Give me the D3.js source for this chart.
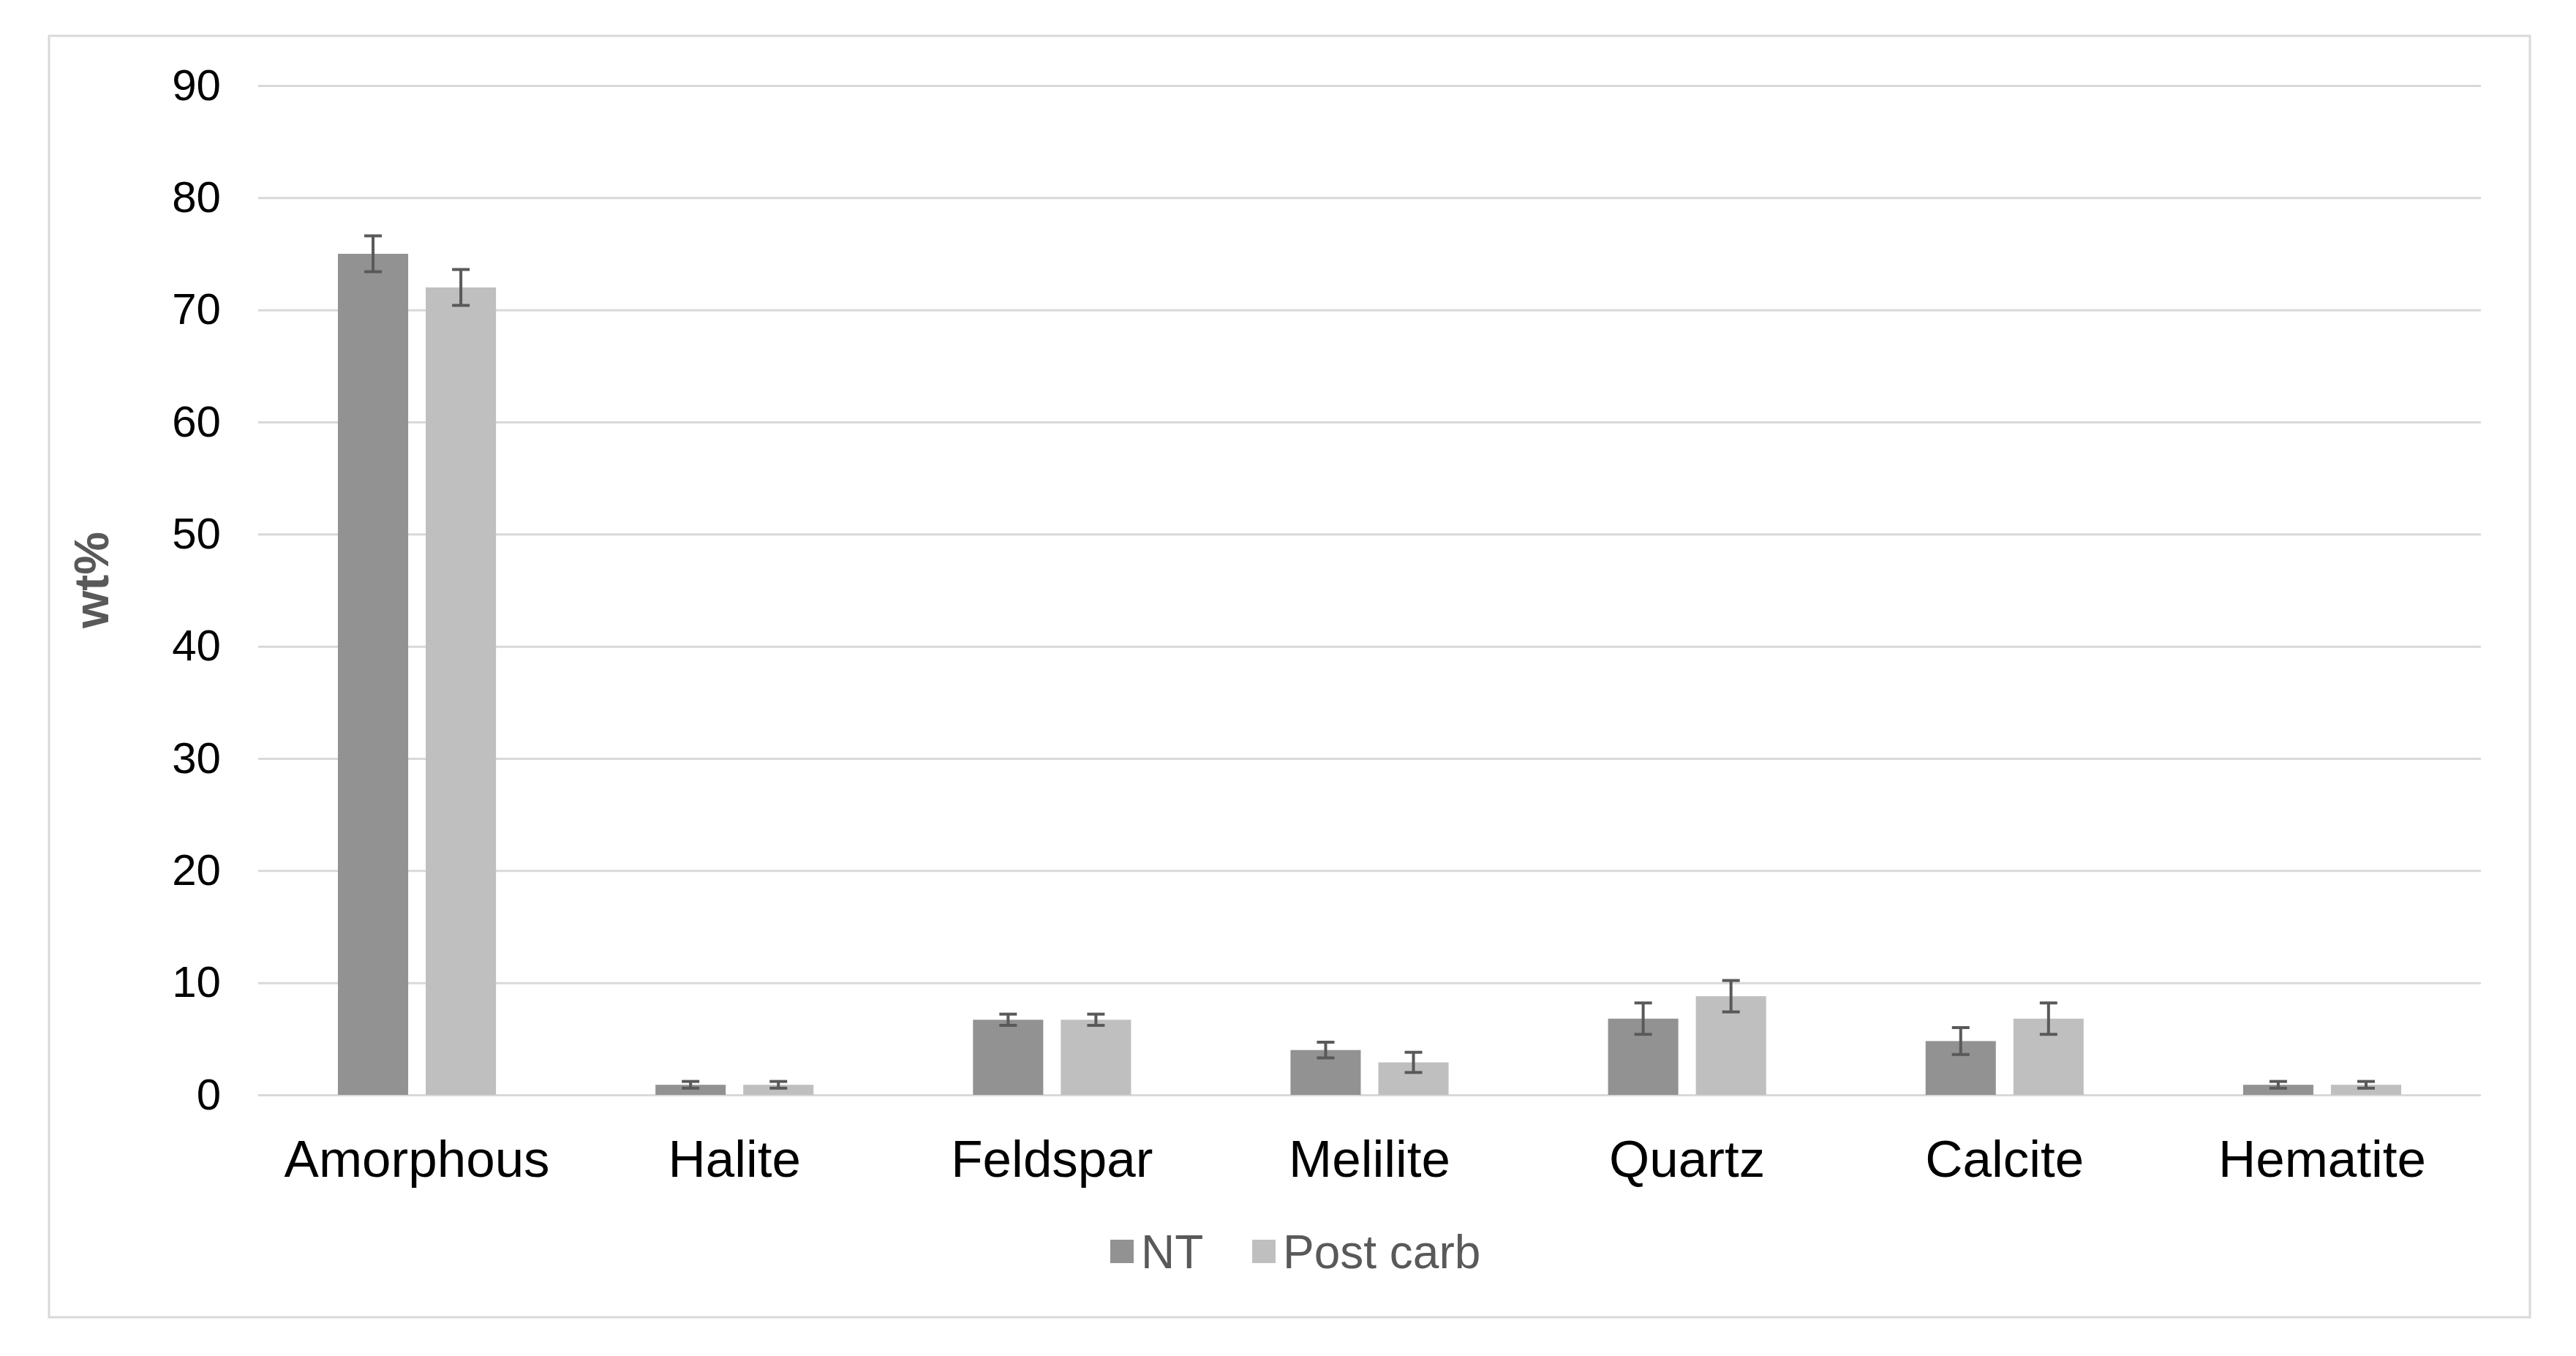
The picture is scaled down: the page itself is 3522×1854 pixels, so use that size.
<!DOCTYPE html>
<html>
<head>
<meta charset="utf-8">
<script src="https://cdn.jsdelivr.net/npm/d3@7"></script>
<style>
  html, body { margin: 0; padding: 0; background: #ffffff; }
</style>
</head>
<body>
<div id="chart"></div>
<script>
(function () {
  "use strict";

  // Mineral phases (x categories)
  const categories = ["Amorphous", "Halite", "Feldspar", "Melilite", "Quartz", "Calcite", "Hematite"];
  const seriesNames = ["NT", "Post carb"];

  // wt% values
  const ntValues = [75, 0.9, 6.7, 4.0, 6.8, 4.8, 0.9];
  const postCarbValues = [72, 0.9, 6.7, 2.9, 8.8, 6.8, 0.9];

  // error bar half-lengths
  const ntErrors = [1.6, 0.3, 0.5, 0.7, 1.4, 1.2, 0.3];
  const postCarbErrors = [1.6, 0.3, 0.5, 0.9, 1.4, 1.4, 0.3];

  const yTicks = [0, 10, 20, 30, 40, 50, 60, 70, 80, 90];

  const W = 3522, H = 1854;
  const FONT = "'Liberation Sans', Arial, Helvetica, sans-serif";
  const COLORS = { "NT": "#929292", "Post carb": "#bfbfbf" };
  const GRID = "#d9d9d9";

  const plot = { left: 353, right: 3392, top: 117, bottom: 1497 };

  const svg = d3.select("#chart").append("svg")
    .attr("width", W).attr("height", H)
    .style("display", "block");

  svg.append("rect").attr("width", W).attr("height", H).attr("fill", "#ffffff");

  // chart area border
  svg.append("rect")
    .attr("x", 67).attr("y", 49).attr("width", 3392).attr("height", 1752)
    .attr("fill", "none").attr("stroke", GRID).attr("stroke-width", 3);

  const y = d3.scaleLinear().domain([0, 90]).range([plot.bottom, plot.top]);

  const x0 = d3.scaleBand().domain(categories).range([plot.left, plot.right]).padding(0);
  const x1 = d3.scaleBand().domain(seriesNames).range([0, x0.bandwidth()])
    .paddingInner(0.2).paddingOuter(0.908);

  // y axis + gridlines
  const yAxis = d3.axisLeft(y)
    .tickValues(yTicks)
    .tickFormat(d3.format("d"))
    .tickSizeInner(-(plot.right - plot.left))
    .tickSizeOuter(0)
    .tickPadding(51);

  const yG = svg.append("g")
    .attr("transform", `translate(${plot.left},0)`)
    .call(yAxis);
  yG.select(".domain").remove();
  yG.selectAll(".tick line").attr("stroke", GRID).attr("stroke-width", 3);
  yG.selectAll(".tick text")
    .attr("fill", "#000000")
    .attr("font-family", FONT)
    .attr("font-size", "60px");

  // axis title
  svg.append("text")
    .attr("transform", "translate(148,793) rotate(-90)")
    .attr("text-anchor", "middle")
    .attr("fill", "#595959")
    .attr("font-family", FONT)
    .attr("font-weight", "bold")
    .attr("font-size", "66px")
    .text("wt%");

  // x axis labels
  const xAxis = d3.axisBottom(x0).tickSize(0).tickPadding(62);
  const xG = svg.append("g")
    .attr("transform", `translate(0,${plot.bottom})`)
    .call(xAxis);
  xG.select(".domain").remove();
  xG.selectAll(".tick text")
    .attr("fill", "#000000")
    .attr("font-family", FONT)
    .attr("font-size", "71px");

  // bars
  const rows = categories.map((c, i) => ({
    cat: c,
    vals: [
      { s: "NT", v: ntValues[i], e: ntErrors[i] },
      { s: "Post carb", v: postCarbValues[i], e: postCarbErrors[i] }
    ]
  }));

  const groups = svg.append("g").selectAll("g.grp")
    .data(rows).enter().append("g")
    .attr("class", "grp")
    .attr("transform", d => `translate(${x0(d.cat)},0)`);

  groups.selectAll("rect")
    .data(d => d.vals).enter().append("rect")
    .attr("x", d => x1(d.s))
    .attr("y", d => y(d.v))
    .attr("width", x1.bandwidth())
    .attr("height", d => y(0) - y(d.v))
    .attr("fill", d => COLORS[d.s]);

  // error bars
  const capW = 24;
  const eb = groups.selectAll("g.err")
    .data(d => d.vals).enter().append("g")
    .attr("class", "err")
    .attr("stroke", "#595959")
    .attr("stroke-width", 4);
  eb.append("line")
    .attr("x1", d => x1(d.s) + x1.bandwidth() / 2)
    .attr("x2", d => x1(d.s) + x1.bandwidth() / 2)
    .attr("y1", d => y(d.v + d.e))
    .attr("y2", d => y(d.v - d.e));
  eb.append("line")
    .attr("x1", d => x1(d.s) + x1.bandwidth() / 2 - capW / 2)
    .attr("x2", d => x1(d.s) + x1.bandwidth() / 2 + capW / 2)
    .attr("y1", d => y(d.v + d.e))
    .attr("y2", d => y(d.v + d.e));
  eb.append("line")
    .attr("x1", d => x1(d.s) + x1.bandwidth() / 2 - capW / 2)
    .attr("x2", d => x1(d.s) + x1.bandwidth() / 2 + capW / 2)
    .attr("y1", d => y(d.v - d.e))
    .attr("y2", d => y(d.v - d.e));

  // legend
  const legendY = 1711;
  const legendX = [1518, 1712];
  const legend = svg.append("g").selectAll("g")
    .data(seriesNames).enter().append("g")
    .attr("transform", (d, i) => `translate(${legendX[i]},${legendY})`);
  legend.append("rect")
    .attr("x", 0).attr("y", -16).attr("width", 32).attr("height", 32)
    .attr("fill", d => COLORS[d]);
  legend.append("text")
    .attr("x", 42).attr("y", 0)
    .attr("dy", "0.36em")
    .attr("fill", "#595959")
    .attr("font-family", FONT)
    .attr("font-size", "64px")
    .text(d => d);
})();
</script>
</body>
</html>
